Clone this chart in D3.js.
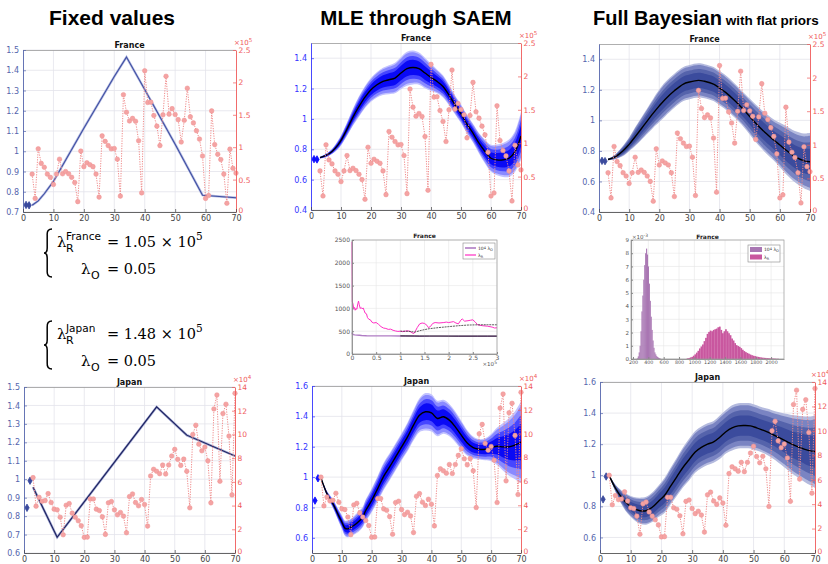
<!DOCTYPE html>
<html><head><meta charset="utf-8">
<script src="https://cdn.jsdelivr.net/npm/d3@7"></script>
<style>body{margin:0;background:#fff}svg{display:block}text{font-family:"DejaVu Sans",sans-serif}</style>
</head><body><svg id="c" width="828" height="564"></svg>
<script>
// ---------------- DATA ----------------
const caseDays = d3.range(3, 71);
const franceCases = [0.585,0.21,0.975,0.75,0.69,0.585,0.535,0.425,0.585,0.815,0.59,0.625,0.59,0.535,0.455,0.16,0.94,0.70,0.76,0.73,0.70,0.585,0.23,1.175,1.09,1.025,0.975,0.98,0.815,0.245,1.81,1.54,1.405,1.445,1.40,1.10,0.295,2.18,1.69,1.695,1.49,1.325,1.025,1.50,2.095,1.51,1.595,1.505,1.425,1.08,1.415,1.91,1.47,1.375,1.255,1.125,0.865,0.21,0.255,1.56,1.04,0.89,0.81,0.585,0.135,0.97,0.675,0.60];
const japanCases = [6.36,3.95,4.70,4.37,4.42,5.01,4.26,3.70,3.64,3.02,1.54,4.03,4.17,3.36,3.02,2.72,2.30,1.32,1.34,4.56,4.56,3.70,3.58,3.05,1.57,4.23,4.34,3.64,3.22,3.42,3.11,1.71,4.76,4.98,4.26,3.98,4.51,4.09,2.27,6.50,7.06,6.89,6.69,7.42,6.66,7.42,8.18,8.74,7.90,7.39,7.92,6.89,3.81,10.0,10.78,9.18,8.62,8.93,7.78,4.23,12.15,13.33,6.05,11.76,12.55,9.86,4.9,13.47];
const obsDays = [1, 2];
const franceObs = [0.735, 0.733];
const japanObs = [0.845, 0.992];

// Fixed-value trajectories
const franceFixedDays = [3,5,7,10,20,30,34,40,50,59,70];
const franceFixed = [0.733,0.755,0.79,0.851,1.114,1.369,1.465,1.305,1.035,0.783,0.770];
const japanFixedDays = [3,11,44,54,70];
const japanFixed = [0.956,0.685,1.392,1.239,1.126];

// SAEM France
const frSaemDays = [3,5,7,9,10,12,14,16,18,20,22,24,26,28,30,32,34,36,38,40,42,44,46,48,50,52,54,56,58,60,62,64,66,68,70];
const frSaemMed = [0.745,0.759,0.785,0.829,0.858,0.932,1.012,1.082,1.144,1.192,1.225,1.247,1.258,1.269,1.302,1.331,1.339,1.331,1.302,1.273,1.247,1.214,1.157,1.093,1.034,0.965,0.906,0.84,0.785,0.741,0.730,0.730,0.741,0.785,0.888];
const frSaemHw = [0.005,0.01,0.015,0.025,0.03,0.04,0.05,0.06,0.065,0.07,0.075,0.08,0.085,0.09,0.095,0.1,0.1,0.095,0.09,0.08,0.07,0.065,0.06,0.055,0.055,0.055,0.055,0.06,0.07,0.08,0.09,0.1,0.11,0.12,0.14];
// Bayes France
const frBayDays = [3,5,8,10,12,15,18,20,22,25,28,30,33,35,38,40,42,45,48,50,52,55,58,60,62,65,68,70];
const frBayMed = [0.744,0.757,0.801,0.843,0.893,0.970,1.047,1.095,1.139,1.194,1.238,1.251,1.262,1.256,1.238,1.211,1.183,1.130,1.069,1.025,0.981,0.922,0.871,0.839,0.806,0.762,0.735,0.729];
const frBayHw = [0.005,0.012,0.03,0.04,0.055,0.07,0.085,0.095,0.1,0.1,0.1,0.1,0.1,0.1,0.1,0.1,0.1,0.1,0.1,0.105,0.11,0.115,0.12,0.13,0.14,0.15,0.16,0.17];
// SAEM Japan
const jpSaemDays = [3,4,5,6,7,8,9,10,11,12,13,14,16,17,18,20,22,24,26,28,30,32,34,36,38,40,42,44,46,48,50,52,54,56,58,60,62,64,66,68,70];
const jpSaemMed = [0.996,0.939,0.891,0.858,0.825,0.785,0.743,0.704,0.664,0.659,0.670,0.681,0.714,0.737,0.780,0.847,0.924,1.005,1.067,1.133,1.199,1.265,1.342,1.408,1.430,1.423,1.386,1.397,1.375,1.331,1.276,1.225,1.194,1.183,1.183,1.194,1.203,1.199,1.199,1.210,1.231];
const jpSaemHw = [0.005,0.01,0.015,0.02,0.025,0.03,0.035,0.04,0.045,0.05,0.05,0.055,0.06,0.06,0.065,0.07,0.075,0.08,0.08,0.08,0.08,0.085,0.09,0.1,0.11,0.11,0.105,0.1,0.095,0.09,0.085,0.075,0.065,0.06,0.065,0.08,0.11,0.14,0.17,0.2,0.24];
// Bayes Japan
const jpBayDays = [3,5,7,9,11,13,15,17,19,21,23,25,27,29,31,33,35,37,39,41,43,45,47,49,51,53,55,57,59,61,63,65,67,69,70];
const jpBayMed = [0.998,0.918,0.858,0.815,0.787,0.772,0.772,0.794,0.832,0.87,0.93,0.99,1.05,1.10,1.15,1.18,1.20,1.215,1.245,1.28,1.305,1.318,1.32,1.318,1.305,1.29,1.275,1.255,1.235,1.215,1.195,1.18,1.165,1.155,1.153];
const jpBayHw = [0.005,0.02,0.04,0.055,0.065,0.075,0.08,0.085,0.09,0.1,0.105,0.11,0.115,0.12,0.12,0.12,0.12,0.12,0.125,0.125,0.13,0.13,0.13,0.13,0.13,0.13,0.135,0.14,0.15,0.16,0.17,0.18,0.19,0.2,0.21];

// SAEM trace (iterations x1e5)
const traceIterR = [0,0.003,0.006,0.02,0.035,0.05,0.065,0.08,0.1,0.12,0.135,0.15,0.17,0.19,0.21,0.23,0.25,0.27,0.3,0.32,0.35,0.38,0.41,0.45,0.5,0.55,0.6,0.65,0.7,0.75,0.8,0.85,0.9,0.95,1.0,1.05,1.1,1.15,1.2,1.25,1.28,1.31,1.35,1.4,1.45,1.5,1.55,1.58,1.62,1.67,1.72,1.8,1.9,1.95,2.0,2.05,2.1,2.15,2.2,2.25,2.28,2.33,2.4,2.45,2.5,2.55,2.6,2.7,2.8,2.9,2.95,3.0];
const traceLambdaR = [2460,1700,1150,1100,1000,1020,960,1000,980,1100,1160,1080,1000,1020,990,1010,960,900,880,800,760,750,700,680,690,650,600,570,560,540,545,520,505,495,500,490,500,510,495,460,450,500,580,660,680,670,630,580,600,670,690,680,690,700,690,700,710,680,660,740,770,720,730,740,750,700,640,620,610,590,570,575];
const traceIterO = [0,0.01,0.03,0.06,0.1,0.15,0.2,0.3,0.4,0.5,0.6,0.8,1,1.2,1.4,1.6,1.8,2,2.2,2.4,2.6,2.8,3];
const traceLambdaO = [470,440,425,420,415,410,405,400,398,397,398,397,396,394,390,392,393,392,390,388,388,389,388];
const avgIter = [1,1.1,1.2,1.3,1.4,1.5,1.6,1.8,2,2.2,2.4,2.6,2.8,3];
const avgLambdaR = [500,500,495,480,510,535,555,580,600,620,635,640,642,640];
const avgLambdaO = [397,396,395,395,394,394,394,394,393,393,393,393,393,393];

// Posterior histograms (density x1e-3)
const histOCenters = [256,268,280,292,304,316,328,340,352,364,376,388,400,412,424,436,448,460,472,484,496,508,520,532,544,556];
const histOValues = [0.05,0.2,0.5,1.0,2.1,3.6,4.8,6.0,7.1,8.0,8.35,7.9,7.0,5.7,4.4,3.2,2.2,1.4,0.85,0.5,0.35,0.22,0.15,0.1,0.06,0.03];
const histRCenters = d3.range(910, 2100, 20);
const histRValues = [0.05,0.07,0.12,0.16,0.25,0.35,0.48,0.62,0.8,0.95,1.1,1.35,1.6,1.9,2.05,2.15,2.1,2.2,2.25,2.3,2.4,2.45,2.2,1.95,2.1,2.25,2.1,1.95,1.8,1.55,1.4,1.2,1.05,0.98,0.92,0.82,0.7,0.6,0.52,0.46,0.4,0.34,0.29,0.25,0.22,0.19,0.16,0.14,0.12,0.1,0.09,0.08,0.07,0.06,0.05,0.04,0.04,0.03,0.02,0.02];

const xTicks = [0,10,20,30,40,50,60,70];
const frRightTicks = [0,0.5,1,1.5,2,2.5];
const jpRightTicks = [0,2,4,6,8,10,12,14];

// ---------------- DRAW ----------------
const svg = d3.select('#c');
const fmt = v => String(+v.toFixed(3));

const saemLayers = [[1.12,'#c2c2ff'],[1.0,'#8a8aff'],[0.75,'#4646ff'],[0.5,'#0a0af5']];
const bayLayers = [[1.12,'#b4bade'],[1.0,'#7a84c2'],[0.75,'#5563ab'],[0.5,'#3b4b9d']];

function makeModel(days, med, hw){ return days.map((t,i)=>({t, m:med[i], h:hw[i]})); }

function drawPanel(p){
  const x = d3.scaleLinear().domain([0,70]).range([p.x0,p.x1]);
  const y = d3.scaleLinear().domain(p.yDom).range([p.y1,p.y0]);
  const yr = d3.scaleLinear().domain(p.rDom).range([p.y1,p.y0]);
  const g = svg.append('g');
  const cid = 'clip'+p.id;
  svg.append('clipPath').attr('id',cid).append('rect')
    .attr('x',p.x0).attr('y',p.y0).attr('width',p.x1-p.x0).attr('height',p.y1-p.y0);
  // grid
  g.append('g').selectAll('line').data(xTicks.slice(1,-1)).join('line')
    .attr('x1',d=>x(d)).attr('x2',d=>x(d)).attr('y1',p.y0).attr('y2',p.y1)
    .attr('stroke','#e3e3eb').attr('stroke-width',0.8);
  g.append('g').selectAll('line').data(p.yTicks).join('line')
    .attr('x1',p.x0).attr('x2',p.x1).attr('y1',d=>y(d)).attr('y2',d=>y(d))
    .attr('stroke','#e3e3eb').attr('stroke-width',0.8);
  const pg = g.append('g').attr('clip-path',`url(#${cid})`);
  if(p.kind==='band'){
    const model = makeModel(p.days,p.med,p.hw);
    p.layers.forEach(([k,col])=>{
      const area = d3.area().x(d=>x(d.t)).y0(d=>y(d.m-k*d.h)).y1(d=>y(d.m+k*d.h)).curve(d3.curveCatmullRom);
      pg.append('path').datum(model).attr('d',area).attr('fill',col);
    });
    const line = d3.line().x(d=>x(d.t)).y(d=>y(d.m)).curve(d3.curveCatmullRom);
    pg.append('path').datum(model).attr('d',line).attr('fill','none').attr('stroke','#000').attr('stroke-width',1.4);
  } else {
    const pts = p.fDays.map((t,i)=>({t,v:p.fVals[i]}));
    const line = d3.line().x(d=>x(d.t)).y(d=>y(d.v));
    pg.append('path').datum(pts).attr('d',line).attr('fill','none').attr('stroke',p.haloColor).attr('stroke-width',2.4);
    pg.append('path').datum(pts).attr('d',line).attr('fill','none').attr('stroke',p.lineColor).attr('stroke-width',1.1);
  }
  // observed early points
  g.append('g').selectAll('path').data(obsDays.map((t,i)=>({t,v:p.obs[i]}))).join('path')
    .attr('transform',d=>`translate(${x(d.t)},${y(d.v)})`)
    .attr('d',d3.symbol(d3.symbolDiamond,16)).attr('fill',p.obsColor).attr('stroke',p.obsColor).attr('stroke-width',0.8);
  // cases
  const cpts = caseDays.map((t,i)=>({t,v:p.cases[i]}));
  g.append('path').datum(cpts).attr('d',d3.line().x(d=>x(d.t)).y(d=>yr(d.v)))
    .attr('fill','none').attr('stroke','#f08a8a').attr('stroke-width',1).attr('stroke-dasharray','1.2,1.3');
  g.append('g').selectAll('circle').data(cpts).join('circle')
    .attr('cx',d=>x(d.t)).attr('cy',d=>yr(d.v)).attr('r',2.3)
    .attr('fill','#f4a3a3').attr('stroke','#ee9090').attr('stroke-width',0.5);
  // frame top
  g.append('line').attr('x1',p.x0).attr('x2',p.x1).attr('y1',p.y0+0.5).attr('y2',p.y0+0.5).attr('stroke','#9a9a9a').attr('stroke-width',0.8);
  // axes
  const ax = (gg, color, fs) => {
    gg.selectAll('.domain').attr('stroke',color).attr('stroke-width',0.9);
    gg.selectAll('.tick line').attr('stroke',color).attr('stroke-width',0.7);
    gg.selectAll('text').attr('fill',color).style('font-size',fs+'px').style('font-family','"DejaVu Sans",sans-serif');
  };
  const gl = g.append('g').attr('transform',`translate(${p.x0},0)`)
    .call(d3.axisLeft(y).tickValues(p.yTicks).tickFormat(fmt).tickSize(-3).tickSizeOuter(0).tickPadding(4));
  ax(gl, p.leftColor, 8);
  const grr = g.append('g').attr('transform',`translate(${p.x1},0)`)
    .call(d3.axisRight(yr).tickValues(p.rTicks).tickFormat(fmt).tickSize(-3).tickSizeOuter(0).tickPadding(2.5));
  ax(grr, '#ef5a5a', 7.5);
  grr.selectAll('.tick text').filter(d=>d===0).attr('dy','0.1em');
  const gb = g.append('g').attr('transform',`translate(0,${p.y1})`)
    .call(d3.axisBottom(x).tickValues(xTicks).tickFormat(fmt).tickSize(-3).tickSizeOuter(0).tickPadding(3.5));
  ax(gb, '#444', 8);
  gb.selectAll('.domain').attr('stroke','#555');
  // exponent label
  const et = g.append('text').attr('x',p.x1-(p.expShift||2)).attr('y',p.y0-5).attr('fill','#ef5a5a').style('font-size','7px').text('×10');
  et.append('tspan').attr('dy',-3).style('font-size','5.5px').text(p.exp);
  // title
  g.append('text').attr('x',(p.x0+p.x1)/2).attr('y',p.y0-2.5).attr('text-anchor','middle')
    .style('font-size','8px').style('font-weight','bold').attr('fill','#111').text(p.title);
}

const frLeft = [0.4,0.6,0.8,1,1.2,1.4];
const jpLeft = [0.6,0.8,1,1.2,1.4,1.6];

drawPanel({id:'TL',x0:23,x1:236,y0:50,y1:212,yDom:[0.7,1.5],yTicks:[0.7,0.8,0.9,1,1.1,1.2,1.3,1.4,1.5],
  rDom:[0,2.5],rTicks:frRightTicks,exp:'5',title:'France',cases:franceCases,obs:franceObs,obsColor:'#3a4a9e',
  kind:'fixed',fDays:franceFixedDays,fVals:franceFixed,lineColor:'#3f4fa2',haloColor:'#b6bce2',leftColor:'#5565ad'});
drawPanel({id:'TM',x0:311,x1:521,y0:43,y1:210,yDom:[0.4,1.5],yTicks:frLeft,
  rDom:[0,2.5],rTicks:frRightTicks,exp:'5',title:'France',cases:franceCases,obs:franceObs,obsColor:'#1010ff',
  kind:'band',days:frSaemDays,med:frSaemMed,hw:frSaemHw,layers:saemLayers,leftColor:'#3434ff'});
drawPanel({id:'TR',x0:599,x1:810,y0:44,y1:212,yDom:[0.4,1.5],yTicks:frLeft,
  rDom:[0,2.5],rTicks:frRightTicks,exp:'5',title:'France',cases:franceCases,obs:franceObs,obsColor:'#3b4b9d',
  kind:'band',days:frBayDays,med:frBayMed,hw:frBayHw,layers:bayLayers,leftColor:'#5565ad'});
drawPanel({id:'BL',x0:24,x1:235,y0:387,y1:553,yDom:[0.6,1.5],yTicks:[0.6,0.7,0.8,0.9,1,1.1,1.2,1.3,1.4,1.5],
  rDom:[0,14],rTicks:jpRightTicks,exp:'4',title:'Japan',cases:japanCases,obs:japanObs,obsColor:'#3a4a9e',
  kind:'fixed',fDays:japanFixedDays,fVals:japanFixed,lineColor:'#1b205c',haloColor:'#9aa1cf',leftColor:'#5565ad'});
drawPanel({id:'BM',x0:312,x1:521,y0:386,y1:553,yDom:[0.5,1.6],yTicks:jpLeft,
  rDom:[0,14],rTicks:jpRightTicks,exp:'4',title:'Japan',cases:japanCases,obs:japanObs,obsColor:'#1010ff',
  kind:'band',days:jpSaemDays,med:jpSaemMed,hw:jpSaemHw,layers:saemLayers,leftColor:'#3434ff'});
drawPanel({id:'BR',x0:600,x1:815,y0:382,y1:553,yDom:[0.5,1.6],yTicks:jpLeft,expShift:4,
  rDom:[0,14],rTicks:jpRightTicks,exp:'4',title:'Japan',cases:japanCases,obs:japanObs,obsColor:'#3b4b9d',
  kind:'band',days:jpBayDays,med:jpBayMed,hw:jpBayHw,layers:bayLayers,leftColor:'#5565ad'});

// small axes helper
function smallAxes(g, x, y, x0,x1,y0,y1, xt, yt){
  g.append('g').selectAll('line').data(xt).join('line').attr('x1',d=>x(d)).attr('x2',d=>x(d)).attr('y1',y0).attr('y2',y1).attr('stroke','#e6e6e6').attr('stroke-width',0.6);
  g.append('g').selectAll('line').data(yt).join('line').attr('x1',x0).attr('x2',x1).attr('y1',d=>y(d)).attr('y2',d=>y(d)).attr('stroke','#e6e6e6').attr('stroke-width',0.6);
}
function styleSmall(gg, fs){
  gg.selectAll('.domain').attr('stroke','#888').attr('stroke-width',0.8);
  gg.selectAll('.tick line').attr('stroke','#888');
  gg.selectAll('text').attr('fill','#555').style('font-size',(fs||6)+'px');
}

// trace plot
(function(){
  const x0=352,x1=497,y0=240,y1=354;
  const x = d3.scaleLinear().domain([0,3]).range([x0,x1]);
  const y = d3.scaleLinear().domain([0,2500]).range([y1,y0]);
  const g = svg.append('g');
  const xt=[0,0.5,1,1.5,2,2.5,3], yt=[0,500,1000,1500,2000,2500];
  smallAxes(g,x,y,x0,x1,y0,y1,xt,yt);
  const ln = (xs,vs)=>d3.line().x((d,i)=>x(xs[i])).y(d=>y(d))(vs);
  g.append('path').attr('d',ln(traceIterO,traceLambdaO)).attr('fill','none').attr('stroke','#b07cc4').attr('stroke-width',1.4);
  g.append('path').attr('d',ln(traceIterR,traceLambdaR)).attr('fill','none').attr('stroke','#ff2ec4').attr('stroke-width',1);
  g.append('path').attr('d',ln(avgIter,avgLambdaR)).attr('fill','none').attr('stroke','#333').attr('stroke-width',0.8).attr('stroke-dasharray','2,0.8');
  g.append('path').attr('d',ln(avgIter,avgLambdaO)).attr('fill','none').attr('stroke','#111').attr('stroke-width',0.9);
  g.append('rect').attr('x',x0).attr('y',y0).attr('width',x1-x0).attr('height',y1-y0).attr('fill','none').attr('stroke','#999').attr('stroke-width',0.7);
  const gb = g.append('g').attr('transform',`translate(0,${y1})`).call(d3.axisBottom(x).tickValues(xt).tickFormat(fmt).tickSize(-2).tickSizeOuter(0).tickPadding(2));
  styleSmall(gb);
  const gl = g.append('g').attr('transform',`translate(${x0},0)`).call(d3.axisLeft(y).tickValues(yt).tickFormat(fmt).tickSize(-2).tickSizeOuter(0).tickPadding(2));
  styleSmall(gl);
  const et = g.append('text').attr('x',x1).attr('y',y1+12).attr('text-anchor','end').attr('fill','#555').style('font-size','5.5px').text('×10');
  et.append('tspan').attr('dy',-2).style('font-size','4.5px').text('5');
  g.append('text').attr('x',(x0+x1)/2).attr('y',y0-2).attr('text-anchor','middle').style('font-size','6px').style('font-weight','bold').attr('fill','#222').text('France');
  // legend
  const lg = g.append('g');
  lg.append('rect').attr('x',463).attr('y',243).attr('width',32).attr('height',16).attr('fill','#fff').attr('stroke','#888').attr('stroke-width',0.6);
  lg.append('line').attr('x1',465).attr('x2',476).attr('y1',248).attr('y2',248).attr('stroke','#b07cc4').attr('stroke-width',1.6);
  lg.append('line').attr('x1',465).attr('x2',476).attr('y1',255).attr('y2',255).attr('stroke','#ff2ec4').attr('stroke-width',1.2);
  const t1 = lg.append('text').attr('x',478).attr('y',250).style('font-size','4.5px').attr('fill','#333').text('10');
  t1.append('tspan').attr('dy',-1.5).style('font-size','3.5px').text('4');
  t1.append('tspan').attr('dy',1.5).text(' λ');
  t1.append('tspan').attr('dy',1).style('font-size','3.5px').text('O');
  const t2 = lg.append('text').attr('x',478).attr('y',256.5).style('font-size','4.5px').attr('fill','#333').text('λ');
  t2.append('tspan').attr('dy',1).style('font-size','3.5px').text('R');
})();

// histogram plot
(function(){
  const x0=631,x1=784,y0=240,y1=359;
  const x = d3.scaleLinear().domain([174,2168]).range([x0,x1]);
  const y = d3.scaleLinear().domain([0,9]).range([y1,y0]);
  const g = svg.append('g');
  const xt=d3.range(200,2001,200), yt=d3.range(0,10,1);
  smallAxes(g,x,y,x0,x1,y0,y1,xt,yt);
  g.append('g').selectAll('rect').data(histOCenters.map((c,i)=>({c,v:histOValues[i]}))).join('rect')
    .attr('x',d=>x(d.c-6)).attr('width',d=>x(d.c+6)-x(d.c-6)+0.2).attr('y',d=>y(d.v)).attr('height',d=>y1-y(d.v))
    .attr('fill','#a977b3');
  g.append('g').selectAll('rect').data(histRCenters.map((c,i)=>({c,v:histRValues[i]}))).join('rect')
    .attr('x',d=>x(d.c-10)).attr('width',d=>x(d.c+10)-x(d.c-10)+0.2).attr('y',d=>y(d.v)).attr('height',d=>y1-y(d.v))
    .attr('fill','#c9579f');
  g.append('rect').attr('x',x0).attr('y',y0).attr('width',x1-x0).attr('height',y1-y0).attr('fill','none').attr('stroke','#999').attr('stroke-width',0.7);
  const gb = g.append('g').attr('transform',`translate(0,${y1})`).call(d3.axisBottom(x).tickValues(xt).tickFormat(fmt).tickSize(-2).tickSizeOuter(0).tickPadding(2));
  styleSmall(gb, 4.8);
  const gl = g.append('g').attr('transform',`translate(${x0},0)`).call(d3.axisLeft(y).tickValues(yt).tickFormat(fmt).tickSize(-2).tickSizeOuter(0).tickPadding(2));
  styleSmall(gl, 5.5);
  const et = g.append('text').attr('x',x0+1).attr('y',y0-1.5).attr('fill','#555').style('font-size','5.5px').text('×10');
  et.append('tspan').attr('dy',-2).style('font-size','4.5px').text('-3');
  g.append('text').attr('x',(x0+x1)/2).attr('y',y0-1.5).attr('text-anchor','middle').style('font-size','6px').style('font-weight','bold').attr('fill','#222').text('France');
  const lg = g.append('g');
  lg.append('rect').attr('x',748).attr('y',245).attr('width',32).attr('height',17).attr('fill','#fff').attr('stroke','#888').attr('stroke-width',0.6);
  lg.append('rect').attr('x',750).attr('y',247).attr('width',12).attr('height',5).attr('fill','#a977b3');
  lg.append('rect').attr('x',750).attr('y',254.5).attr('width',12).attr('height',5).attr('fill','#c9579f');
  const t1 = lg.append('text').attr('x',764).attr('y',251).style('font-size','4.5px').attr('fill','#333').text('10');
  t1.append('tspan').attr('dy',-1.5).style('font-size','3.5px').text('4');
  t1.append('tspan').attr('dy',1.5).text(' λ');
  t1.append('tspan').attr('dy',1).style('font-size','3.5px').text('O');
  const t2 = lg.append('text').attr('x',764).attr('y',258.5).style('font-size','4.5px').attr('fill','#333').text('λ');
  t2.append('tspan').attr('dy',1).style('font-size','3.5px').text('R');
})();

// headers
const hdr = (x, txt, anchor, fs) => svg.append('text').attr('x',x).attr('y',25).attr('text-anchor',anchor||'middle')
  .style('font-family','"Liberation Sans",Arial,sans-serif').style('font-weight','bold').style('font-size',(fs||20)+'px').attr('fill','#000').text(txt);
hdr(112,'Fixed values','middle',21);
hdr(416,'MLE through SAEM','middle',20.5);
const fb = hdr(593,'Full Bayesian','start',20);
fb.append('tspan').style('font-size','13.5px').text(' with flat priors');

// formulas
function brace(x, yA, yB){
  const w=8, m=(yA+yB)/2;
  svg.append('path').attr('d',`M${x+w},${yA} Q${x+w*0.35},${yA} ${x+w*0.4},${yA+6} L${x+w*0.4},${m-5} Q${x+w*0.4},${m} ${x},${m} Q${x+w*0.4},${m} ${x+w*0.4},${m+5} L${x+w*0.4},${yB-6} Q${x+w*0.35},${yB} ${x+w},${yB}`)
    .attr('fill','none').attr('stroke','#000').attr('stroke-width',1.5);
}
function formula(yTop, country, valR){
  const serif = '"DejaVu Serif",serif';
  brace(44, yTop, yTop+48);
  const b1 = yTop+18, b2 = yTop+45;
  svg.append('text').attr('x',57).attr('y',b1).style('font-family',serif).style('font-size','15px').text('λ');
  svg.append('text').attr('x',66).attr('y',b1-7).style('font-size','10.5px').text(country);
  svg.append('text').attr('x',66).attr('y',b1+5).style('font-size','11px').text('R');
  const t = svg.append('text').attr('x',107).attr('y',b1).style('font-family',serif).style('font-size','14.5px').text('= ' + valR + ' × 10');
  t.append('tspan').attr('dy',-7).style('font-size','10.5px').text('5');
  svg.append('text').attr('x',81).attr('y',b2).style('font-family',serif).style('font-size','15px').text('λ');
  svg.append('text').attr('x',91).attr('y',b2+5).style('font-size','11px').text('O');
  svg.append('text').attr('x',107).attr('y',b2).style('font-family',serif).style('font-size','14.5px').text('= 0.05');
}
formula(229,'France','1.05');
formula(321,'Japan','1.48');
</script></body></html>
